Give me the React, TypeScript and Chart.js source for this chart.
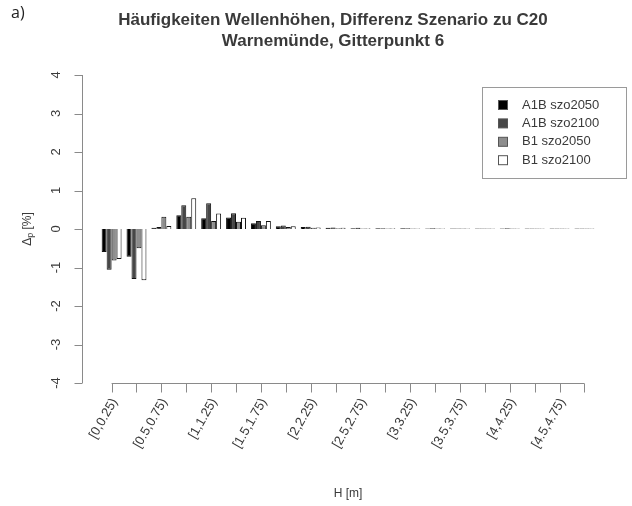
import React, { useEffect, useRef } from "react";
import { Chart, registerables } from "chart.js";

Chart.register(...registerables);

const titleLines = ["Häufigkeiten Wellenhöhen, Differenz Szenario zu C20", "Warnemünde, Gitterpunkt 6"];
const panelTag = "a)";
const xTitle = "H [m]";

const categories = [
  "[0,0.25)", "[0.25,0.5)", "[0.5,0.75)", "[0.75,1)", "[1,1.25)",
  "[1.25,1.5)", "[1.5,1.75)", "[1.75,2)", "[2,2.25)", "[2.25,2.5)",
  "[2.5,2.75)", "[2.75,3)", "[3,3.25)", "[3.25,3.5)", "[3.5,3.75)",
  "[3.75,4)", "[4,4.25)", "[4.25,4.5)", "[4.5,4.75)", "[4.75,5)",
];

const seriesNames = ["A1B szo2050", "A1B szo2100", "B1 szo2050", "B1 szo2100"];
const seriesColors = ["#000000", "#474747", "#8e8e8e", "#ffffff"];

const a1b2050 = [-0.6, -0.72, 0.03, 0.36, 0.28, 0.3, 0.15, 0.07, 0.05, 0.03, 0.02, 0.02, 0.02, 0.01, 0.01, 0.01, 0.01, 0.01, 0.01, 0.01];
const a1b2100 = [-1.06, -1.3, 0.05, 0.62, 0.67, 0.41, 0.21, 0.09, 0.06, 0.04, 0.03, 0.02, 0.02, 0.02, 0.01, 0.01, 0.02, 0.01, 0.01, 0.01];
const b12050 = [-0.82, -0.5, 0.32, 0.32, 0.21, 0.19, 0.1, 0.05, 0.03, 0.02, 0.01, 0.01, 0.01, 0.01, 0.01, 0.01, 0.01, 0.01, 0.01, 0.01];
const b12100 = [-0.78, -1.33, 0.08, 0.8, 0.4, 0.29, 0.21, 0.07, 0.04, 0.03, 0.02, 0.02, 0.01, 0.01, 0.01, 0.01, 0.01, 0.01, 0.01, 0.01];

const allSeries = [a1b2050, a1b2100, b12050, b12100];
const yTicks = [-4, -3, -2, -1, 0, 1, 2, 3, 4];

const FONT = "'Liberation Sans', Arial, sans-serif";
const AXIS_COLOR = "#8a8a8a";
const TEXT_COLOR = "#3a3a3a";

const decorPlugin = {
  id: "rstyle",
  beforeDraw(chart: any) {
    const { ctx } = chart;
    ctx.save();
    ctx.fillStyle = "#ffffff";
    ctx.fillRect(0, 0, chart.width, chart.height);
    ctx.restore();
  },
  afterDraw(chart: any) {
    const { ctx, chartArea } = chart;
    const xs = chart.scales.x;
    const ys = chart.scales.y;
    ctx.save();

    // panel tag
    ctx.fillStyle = "#222";
    ctx.font = `16px 'Open Sans', ${FONT}`;
    ctx.textAlign = "left";
    ctx.textBaseline = "middle";
    ctx.fillText(panelTag, 11, 13);

    // title
    ctx.fillStyle = TEXT_COLOR;
    ctx.font = `bold 17px ${FONT}`;
    ctx.textAlign = "center";
    const tx = 333;
    ctx.fillText(titleLines[0], tx, 20);
    ctx.fillText(titleLines[1], tx, 41);

    // y axis
    ctx.strokeStyle = AXIS_COLOR;
    ctx.lineWidth = 1;
    const yAxisX = Math.round(chartArea.left) + 0.5;
    const yTop = ys.getPixelForValue(yTicks[yTicks.length - 1]);
    const yBot = ys.getPixelForValue(yTicks[0]);
    ctx.beginPath();
    ctx.moveTo(yAxisX, yTop);
    ctx.lineTo(yAxisX, yBot);
    for (const t of yTicks) {
      const py = Math.round(ys.getPixelForValue(t)) + 0.5;
      ctx.moveTo(yAxisX, py);
      ctx.lineTo(yAxisX - 8, py);
    }
    ctx.stroke();

    ctx.fillStyle = TEXT_COLOR;
    ctx.font = `13px ${FONT}`;
    for (const t of yTicks) {
      const py = ys.getPixelForValue(t);
      ctx.save();
      ctx.translate(yAxisX - 26, py);
      ctx.rotate(-Math.PI / 2);
      ctx.textAlign = "center";
      ctx.textBaseline = "middle";
      ctx.fillText(String(t), 0, 0);
      ctx.restore();
    }

    // y title: Δp [%]
    ctx.save();
    ctx.translate(28, ys.getPixelForValue(0));
    ctx.rotate(-Math.PI / 2);
    ctx.textBaseline = "middle";
    ctx.font = `12px ${FONT}`;
    const part1 = "Δ";
    const sub = "p";
    const part3 = " [%]";
    const w1 = ctx.measureText(part1).width;
    ctx.font = `9px ${FONT}`;
    const w2 = ctx.measureText(sub).width;
    ctx.font = `12px ${FONT}`;
    const w3 = ctx.measureText(part3).width;
    let cx = -(w1 + w2 + w3) / 2;
    ctx.textAlign = "left";
    ctx.fillText(part1, cx, 0);
    cx += w1;
    ctx.font = `9px ${FONT}`;
    ctx.fillText(sub, cx, 3);
    cx += w2;
    ctx.font = `12px ${FONT}`;
    ctx.fillText(part3, cx, 0);
    ctx.restore();

    // x axis
    const xAxisY = Math.round(ys.getPixelForValue(yTicks[0])) + 0.5;
    const x0 = xs.getPixelForValue(0);
    const x1 = xs.getPixelForValue(categories.length - 1);
    ctx.strokeStyle = AXIS_COLOR;
    ctx.beginPath();
    ctx.moveTo(x0, xAxisY);
    ctx.lineTo(x1, xAxisY);
    categories.forEach((_, i) => {
      const px = Math.round(xs.getPixelForValue(i)) + 0.5;
      ctx.moveTo(px, xAxisY);
      ctx.lineTo(px, xAxisY + 9);
    });
    ctx.stroke();

    ctx.fillStyle = TEXT_COLOR;
    ctx.font = `13px ${FONT}`;
    categories.forEach((label, i) => {
      if (i % 2 !== 0) return;
      const px = xs.getPixelForValue(i);
      ctx.save();
      ctx.translate(px + 3, xAxisY + 16);
      ctx.rotate(-Math.PI / 3);
      ctx.textAlign = "right";
      ctx.textBaseline = "middle";
      ctx.fillText(label, 0, 0);
      ctx.restore();
    });

    ctx.font = `12px ${FONT}`;
    ctx.textAlign = "center";
    ctx.textBaseline = "middle";
    ctx.fillText(xTitle, (chartArea.left + chartArea.right) / 2, 494);

    // legend
    const lx = 482.5, ly = 87.5, lw = 144, lh = 91;
    ctx.strokeStyle = "#9a9a9a";
    ctx.lineWidth = 1;
    ctx.strokeRect(lx, ly, lw, lh);
    ctx.font = `13px ${FONT}`;
    ctx.textAlign = "left";
    ctx.textBaseline = "middle";
    seriesNames.forEach((name, i) => {
      const rowY = 105 + i * 18.4;
      ctx.fillStyle = seriesColors[i];
      ctx.fillRect(498.5, rowY - 4.5, 9, 9);
      ctx.strokeStyle = "#555";
      ctx.strokeRect(498.5, rowY - 4.5, 9, 9);
      ctx.fillStyle = TEXT_COLOR;
      ctx.fillText(name, 522, rowY);
    });

    ctx.restore();
  },
};

export default function App() {
  const canvasRef = useRef<HTMLCanvasElement | null>(null);

  useEffect(() => {
    const canvas = canvasRef.current;
    if (!canvas) return;
    const chart = new Chart(canvas, {
      type: "bar",
      data: {
        datasets: allSeries.map((vals, s) => ({
          label: seriesNames[s],
          data: vals.map((v, i) => ({ x: i, y: v })),
          backgroundColor: seriesColors[s],
          borderColor: "#111111",
          borderWidth: 1,
          categoryPercentage: 0.8,
          barPercentage: 1.0,
        })),
      },
      options: {
        responsive: false,
        animation: false,
        devicePixelRatio: 1,
        layout: { padding: { left: 82, top: 75, right: 18, bottom: 123 } },
        plugins: {
          legend: { display: false },
          title: { display: false },
          tooltip: { enabled: false },
        },
        scales: {
          x: {
            type: "linear",
            display: false,
            offset: false,
            grid: { offset: false },
            min: -1.19,
            max: categories.length - 1 + 1.19,
          },
          y: {
            type: "linear",
            display: false,
            min: yTicks[0],
            max: yTicks[yTicks.length - 1],
          },
        },
      },
      plugins: [decorPlugin],
    });
    return () => chart.destroy();
  }, []);

  return (
    <div style={{ position: "absolute", left: 0, top: 0, width: 632, height: 506, background: "#fff" }}>
      <canvas ref={canvasRef} width={632} height={506} style={{ display: "block" }} />
    </div>
  );
}
